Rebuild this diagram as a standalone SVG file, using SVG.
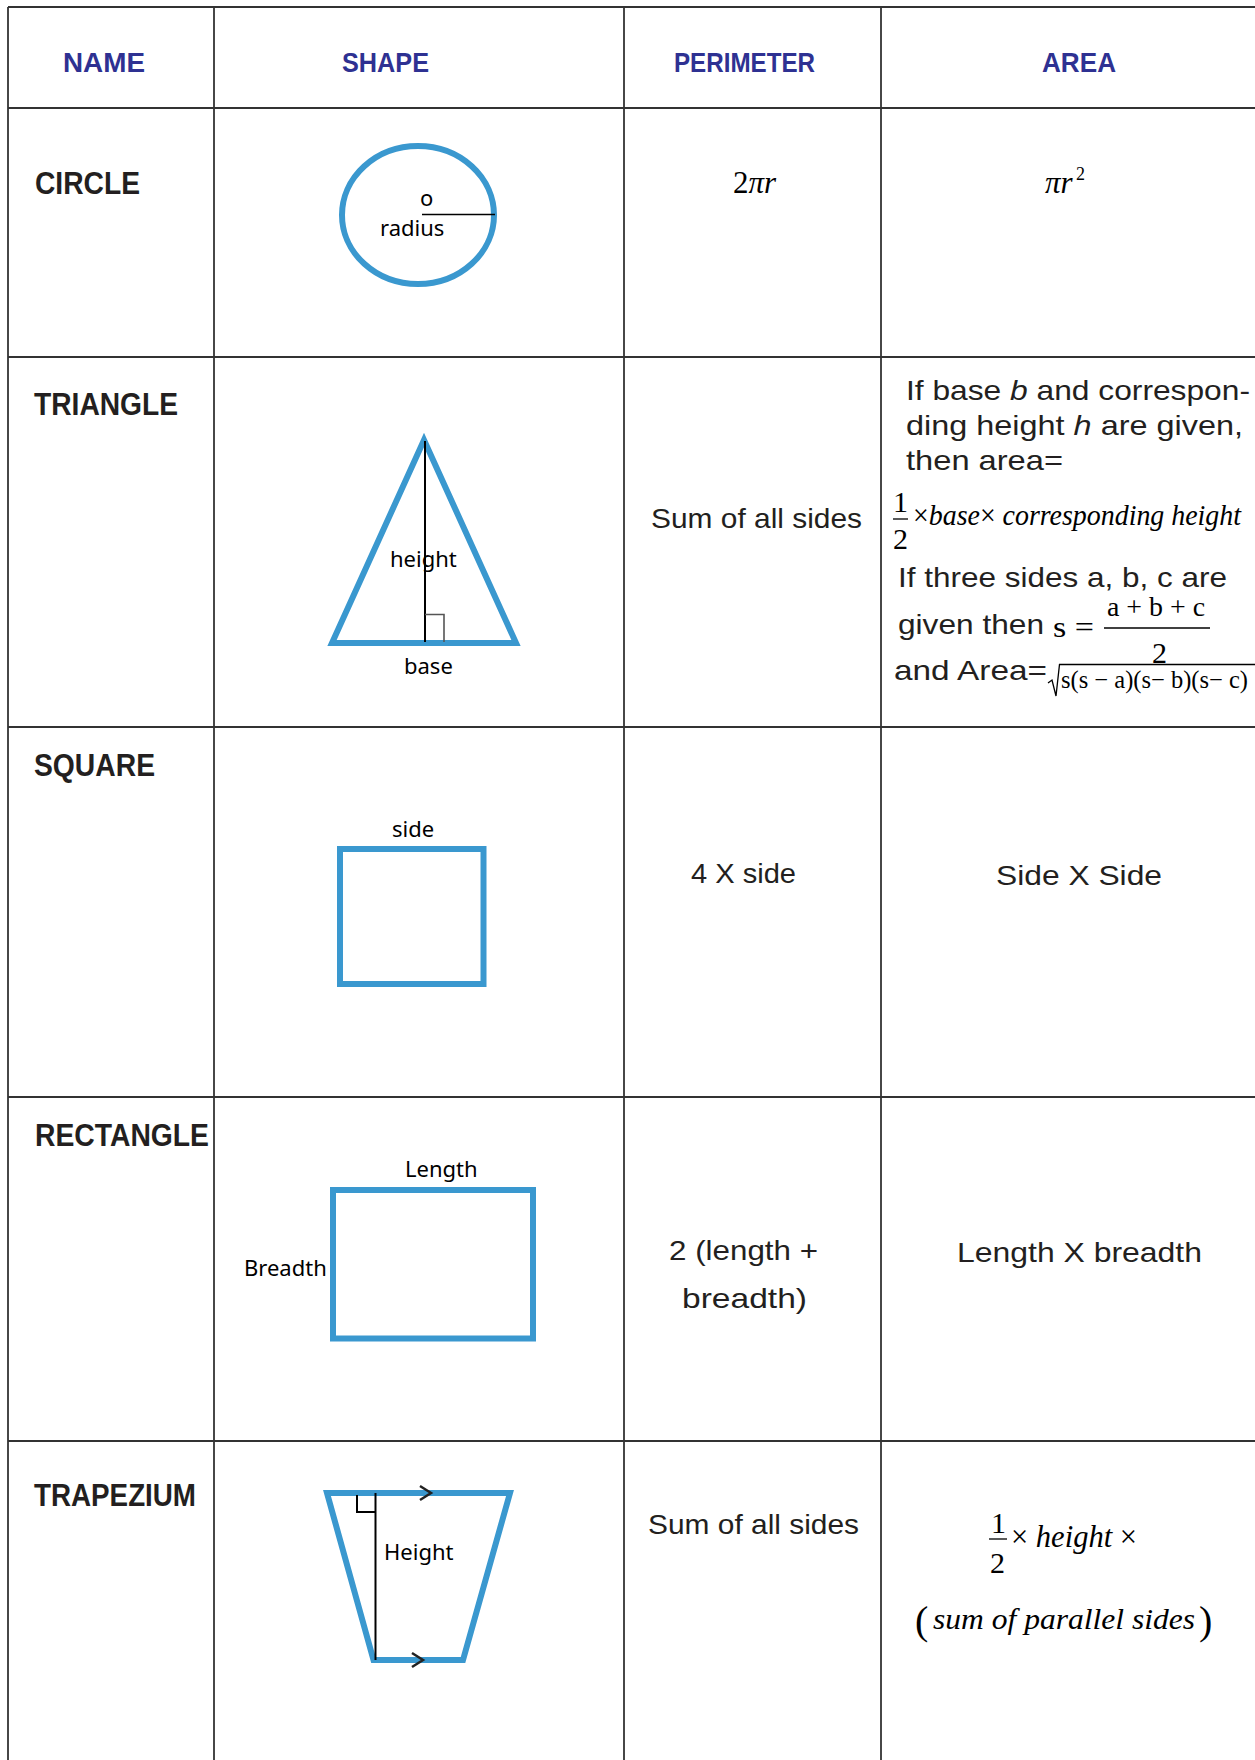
<svg xmlns="http://www.w3.org/2000/svg" width="1255" height="1760" viewBox="0 0 1255 1760">
<style>
.hdr{font-family:"Liberation Sans",Arial,sans-serif;font-weight:bold;font-size:28px;fill:#2e3192;text-anchor:middle}
.name{font-family:"Liberation Sans",Arial,sans-serif;font-weight:bold;font-size:32px;fill:#231f20}
.lbl{font-family:"Noto Sans","Liberation Sans",sans-serif;font-size:22px;fill:#000}
.txt{font-family:"Liberation Sans",Arial,sans-serif;font-size:28px;fill:#231f20}
.math{font-family:"Liberation Serif","Times New Roman",serif;fill:#000}
.it{font-style:italic}
.grid line{stroke:#333;stroke-width:1.8}
.shp{fill:none;stroke:#3a98cf;stroke-width:6}
.thin{stroke:#000;stroke-width:2;fill:none}
.box{stroke:#555;stroke-width:1.6;fill:none}
.bar{stroke:#000;stroke-width:1.3}
</style>
<rect width="1255" height="1760" fill="#fff"/>
<g id="grid" class="grid">
<line x1="8" y1="7" x2="1255" y2="7"/>
<line x1="8" y1="108" x2="1255" y2="108"/>
<line x1="8" y1="357" x2="1255" y2="357"/>
<line x1="8" y1="727" x2="1255" y2="727"/>
<line x1="8" y1="1097" x2="1255" y2="1097"/>
<line x1="8" y1="1441" x2="1255" y2="1441"/>
<line x1="8" y1="7" x2="8" y2="1760"/>
<line x1="214" y1="7" x2="214" y2="1760"/>
<line x1="624" y1="7" x2="624" y2="1760"/>
<line x1="881" y1="7" x2="881" y2="1760"/>
</g>
<g id="header">
<text class="hdr" x="104" y="72" textLength="82" lengthAdjust="spacingAndGlyphs">NAME</text>
<text class="hdr" x="385.5" y="72" textLength="87" lengthAdjust="spacingAndGlyphs">SHAPE</text>
<text class="hdr" x="744.5" y="72" textLength="141" lengthAdjust="spacingAndGlyphs">PERIMETER</text>
<text class="hdr" x="1079" y="72" textLength="74" lengthAdjust="spacingAndGlyphs">AREA</text>
</g>
<g id="row-circle">
<text class="name" x="35" y="194" textLength="105" lengthAdjust="spacingAndGlyphs">CIRCLE</text>
<ellipse class="shp" cx="418" cy="215" rx="76" ry="69"/>
<line x1="422" y1="214.5" x2="495" y2="214.5" stroke="#000" stroke-width="1.6"/>
<text class="lbl" x="420" y="206">o</text>
<text class="lbl" x="380" y="236">radius</text>
<text class="math" x="733" y="193" font-size="31">2<tspan class="it">πr</tspan></text>
<text class="math it" x="1045" y="193" font-size="31">πr</text>
<text class="math" x="1076" y="180" font-size="18">2</text>
</g>
<g id="row-triangle">
<text class="name" x="34" y="415" textLength="144" lengthAdjust="spacingAndGlyphs">TRIANGLE</text>
<polygon class="shp" points="332,643 516,643 424,440"/>
<line class="thin" x1="425" y1="441" x2="425" y2="642"/>
<path class="box" d="M425,614.5 H444 V642"/>
<text class="lbl" x="390" y="567">height</text>
<text class="lbl" x="404" y="674">base</text>
<text class="txt" x="651" y="528" textLength="211" lengthAdjust="spacingAndGlyphs">Sum of all sides</text>
<text class="txt" x="906" y="400" font-size="27" textLength="344" lengthAdjust="spacingAndGlyphs">If base <tspan class="it">b</tspan> and correspon-</text>
<text class="txt" x="906" y="435" font-size="27" textLength="337" lengthAdjust="spacingAndGlyphs">ding height <tspan class="it">h</tspan> are given,</text>
<text class="txt" x="906" y="470" font-size="27" textLength="157" lengthAdjust="spacingAndGlyphs">then area=</text>
<text class="math" x="893" y="512" font-size="30">1</text>
<line class="bar" x1="893" y1="519" x2="908" y2="519"/>
<text class="math" x="893" y="549" font-size="30">2</text>
<text class="math" x="913" y="525" font-size="29" textLength="328" lengthAdjust="spacingAndGlyphs">×<tspan class="it">base</tspan>× <tspan class="it">corresponding height</tspan></text>
<text class="txt" x="898" y="587" font-size="27" textLength="329" lengthAdjust="spacingAndGlyphs">If three sides a, b, c are</text>
<text class="txt" x="898" y="634" font-size="27" textLength="146" lengthAdjust="spacingAndGlyphs">given then</text>
<text class="math" x="1053" y="637" font-size="30" textLength="41" lengthAdjust="spacingAndGlyphs">s =</text>
<text class="math" x="1107" y="616" font-size="28" textLength="98" lengthAdjust="spacingAndGlyphs">a + b + c</text>
<line class="bar" x1="1104" y1="628" x2="1210" y2="628"/>
<text class="math" x="1152" y="663" font-size="30">2</text>
<text class="txt" x="894" y="680" font-size="27" textLength="153" lengthAdjust="spacingAndGlyphs">and Area=</text>
<path d="M1048,683 L1052,680 L1056,696 L1059.5,664.5 L1255,664.5" fill="none" stroke="#000" stroke-width="1.3"/>
<text class="math" x="1061" y="688" font-size="25" textLength="187" lengthAdjust="spacingAndGlyphs">s(s − a)(s− b)(s− c)</text>
</g>
<g id="row-square">
<text class="name" x="34" y="776" textLength="121" lengthAdjust="spacingAndGlyphs">SQUARE</text>
<text class="lbl" x="392" y="837">side</text>
<rect class="shp" x="340" y="849" width="143.5" height="135"/>
<text class="txt" x="691" y="883" font-size="27" textLength="105" lengthAdjust="spacingAndGlyphs">4 X side</text>
<text class="txt" x="996" y="885" font-size="32" textLength="166" lengthAdjust="spacingAndGlyphs">Side X Side</text>
</g>
<g id="row-rectangle">
<text class="name" x="35" y="1146" textLength="174" lengthAdjust="spacingAndGlyphs">RECTANGLE</text>
<text class="lbl" x="405" y="1177">Length</text>
<text class="lbl" x="244" y="1276">Breadth</text>
<rect class="shp" x="333" y="1190" width="200" height="148.5"/>
<text class="txt" x="669" y="1260" textLength="149" lengthAdjust="spacingAndGlyphs">2 (length +</text>
<text class="txt" x="682" y="1308" textLength="125" lengthAdjust="spacingAndGlyphs">breadth)</text>
<text class="txt" x="957" y="1262" font-size="31" textLength="245" lengthAdjust="spacingAndGlyphs">Length X breadth</text>
</g>
<g id="row-trapezium">
<text class="name" x="34" y="1506" textLength="162" lengthAdjust="spacingAndGlyphs">TRAPEZIUM</text>
<polygon class="shp" stroke-width="5.5" points="327,1493 510,1493 463,1660 373.5,1660"/>
<line class="thin" x1="375.5" y1="1493" x2="375.5" y2="1660"/>
<path class="thin" d="M357,1495 V1512 H375"/>
<path d="M420,1486 L431,1493 L420,1500" fill="none" stroke="#222" stroke-width="2.5"/>
<path d="M412,1653 L423,1660 L412,1667" fill="none" stroke="#222" stroke-width="2.5"/>
<text class="lbl" x="384" y="1560">Height</text>
<text class="txt" x="648" y="1534" textLength="211" lengthAdjust="spacingAndGlyphs">Sum of all sides</text>
<text class="math" x="991" y="1533" font-size="30">1</text>
<line class="bar" x1="989" y1="1539" x2="1007" y2="1539"/>
<text class="math" x="990" y="1573" font-size="30">2</text>
<text class="math" x="1011" y="1547" font-size="31" textLength="126" lengthAdjust="spacingAndGlyphs">× <tspan class="it">height</tspan> ×</text>
<text class="math" x="915" y="1634" font-size="40">(</text>
<text class="math it" x="933" y="1629" font-size="29" textLength="262" lengthAdjust="spacingAndGlyphs">sum of parallel sides</text>
<text class="math" x="1199" y="1634" font-size="40">)</text>
</g>
</svg>
